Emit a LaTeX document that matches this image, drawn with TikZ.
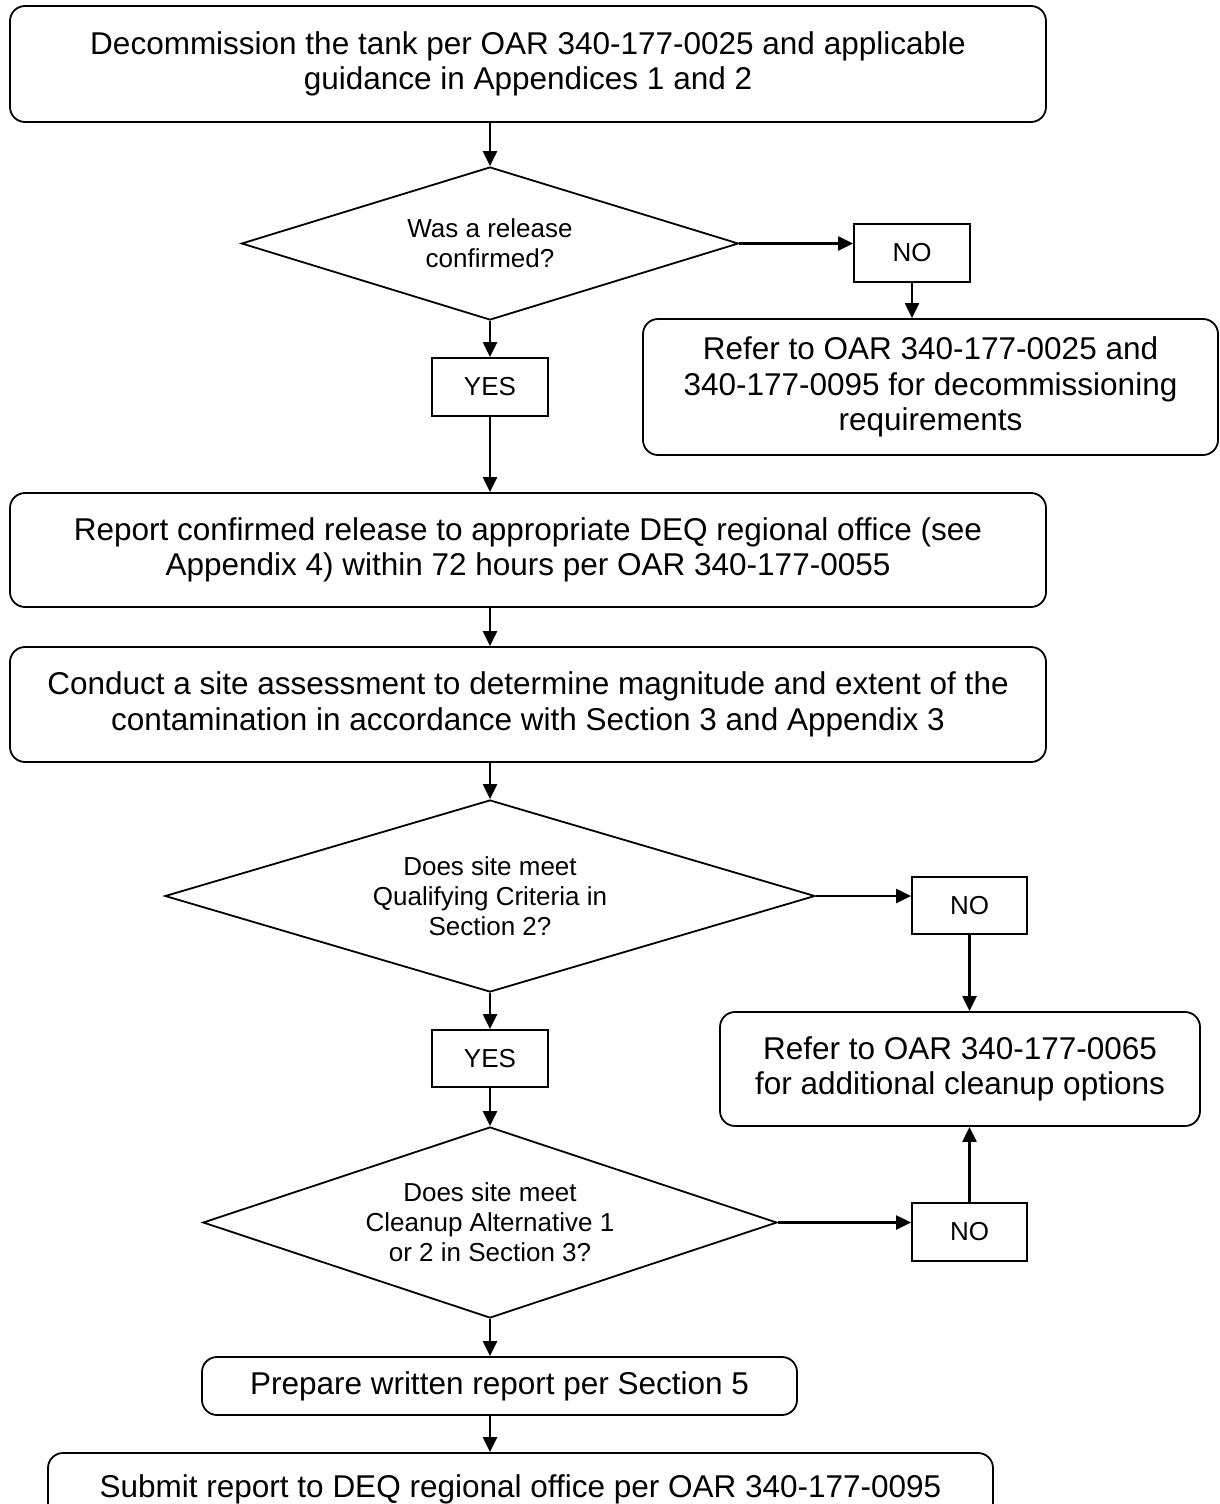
\documentclass[tikz,border=0pt]{standalone}
\usepackage{fontspec}
\setmainfont{Liberation Sans}
\usetikzlibrary{shapes.geometric,arrows.meta}
\tikzset{
  box/.style={draw, line width=1.8pt, rounded corners=15pt, inner sep=0pt, align=center,
    font=\fontsize{31.5}{35.5}\selectfont},
  plainbox/.style={draw, line width=1.8pt, inner sep=0pt, align=center,
    font=\fontsize{26}{30}\selectfont},
  dia/.style={draw, diamond, line width=1.8pt, inner sep=0pt, align=center,
    font=\fontsize{26}{30}\selectfont},
  arr/.style={line width=2.2pt, -{Triangle[length=15pt,width=14pt]}},
}
\begin{document}
\begin{tikzpicture}[x=1pt,y=-1pt]
\useasboundingbox (0,0) rectangle (1220,1504);

\node[box, minimum width=1036pt, minimum height=116pt] (b1) at (528,64)
  {Decommission the tank per OAR 340-177-0025 and applicable\\guidance in Appendices 1 and 2};

\node[dia, minimum width=497pt, minimum height=153pt, aspect=3.25] (d1) at (490,243.5)
  {Was a release\\confirmed?};

\node[plainbox, minimum width=116pt, minimum height=58pt] (no1) at (912,253) {NO};

\node[box, minimum width=575pt, minimum height=136pt] (r1) at (930.5,387)
  {Refer to OAR 340-177-0025 and\\340-177-0095 for decommissioning\\requirements};

\node[plainbox, minimum width=116pt, minimum height=58pt] (yes1) at (490,387) {YES};

\node[box, minimum width=1036pt, minimum height=114pt] (b2) at (528,550)
  {Report confirmed release to appropriate DEQ regional office (see\\Appendix 4) within 72 hours per OAR 340-177-0055};

\node[box, minimum width=1036pt, minimum height=115pt] (b3) at (528,704.5)
  {Conduct a site assessment to determine magnitude and extent of the\\contamination in accordance with Section 3 and Appendix 3};

\node[dia, minimum width=650pt, minimum height=192pt, aspect=3.39] (d2) at (490,896)
  {Does site meet\\Qualifying Criteria in\\Section 2?};

\node[plainbox, minimum width=115pt, minimum height=57pt] (no2) at (969.5,905.5) {NO};

\node[box, minimum width=480pt, minimum height=114pt] (r2) at (960,1069)
  {Refer to OAR 340-177-0065\\for additional cleanup options};

\node[plainbox, minimum width=116pt, minimum height=57pt] (yes2) at (490,1058.5) {YES};

\node[dia, minimum width=574pt, minimum height=191pt, aspect=3.0] (d3) at (490,1222.5)
  {Does site meet\\Cleanup Alternative 1\\or 2 in Section 3?};

\node[plainbox, minimum width=115pt, minimum height=58pt] (no3) at (969.5,1232) {NO};

\node[box, minimum width=595pt, minimum height=58pt] (b4) at (499.5,1386)
  {Prepare written report per Section 5};

\node[box, minimum width=945pt, minimum height=72pt] (b5) at (520.5,1489)
  {Submit report to DEQ regional office per OAR 340-177-0095};

% connectors
\draw[arr] (d1.north |- b1.south) -- (d1.north);
\draw[arr] (d1.east) -- (d1.east -| no1.west);
\draw[arr] (no1.south) -- (no1.south |- r1.north);
\draw[arr] (d1.south) -- (yes1.north);
\draw[arr] (yes1.south) -- (yes1.south |- b2.north);
\draw[arr] (yes1.south |- b2.south) -- (yes1.south |- b3.north);
\draw[arr] (d2.north |- b3.south) -- (d2.north);
\draw[arr] (d2.east) -- (d2.east -| no2.west);
\draw[arr] (no2.south) -- (no2.south |- r2.north);
\draw[arr] (d2.south) -- (yes2.north);
\draw[arr] (yes2.south) -- (d3.north);
\draw[arr] (d3.east) -- (d3.east -| no3.west);
\draw[arr] (no3.north) -- (no3.north |- r2.south);
\draw[arr] (d3.south) -- (d3.south |- b4.north);
\draw[arr] (d3.south |- b4.south) -- (d3.south |- b5.north);
\end{tikzpicture}
\end{document}
